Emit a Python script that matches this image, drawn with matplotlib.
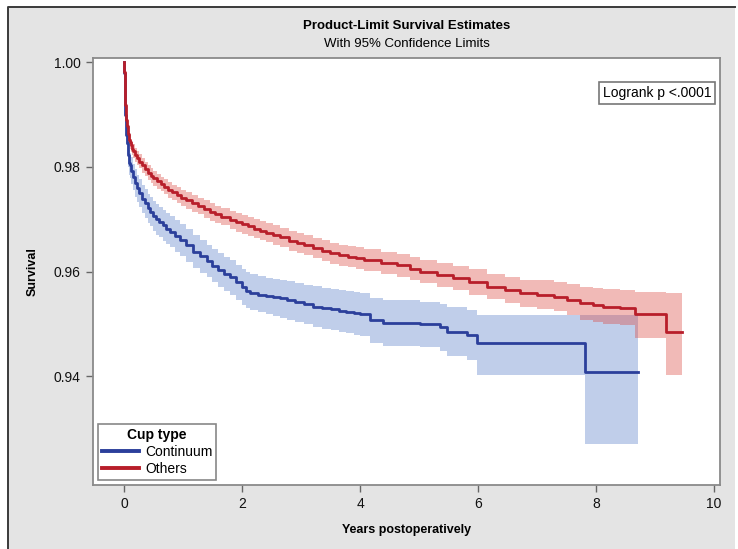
import numpy as np
import matplotlib
matplotlib.use("Agg")
import matplotlib.pyplot as plt
from matplotlib.patches import Rectangle
from matplotlib.lines import Line2D

plt.rcParams['font.family'] = ['Liberation Sans', 'DejaVu Sans']

# Kaplan-Meier estimates with 95% limits, group "Others"
oth_t = [0, 0.005, 0.01, 0.015, 0.02, 0.025, 0.03, 0.035, 0.04, 0.05, 0.06, 0.07, 0.08,
         0.09, 0.10, 0.12, 0.14, 0.16, 0.19, 0.22, 0.26, 0.30, 0.35, 0.40, 0.45, 0.50,
         0.56, 0.62, 0.68, 0.75, 0.82, 0.89, 0.97, 1.05, 1.15, 1.25, 1.35, 1.46, 1.55,
         1.65, 1.80, 1.90, 2.0, 2.1, 2.2, 2.3, 2.4, 2.52, 2.65, 2.8, 2.93, 3.05, 3.2,
         3.35, 3.49, 3.65, 3.8, 3.93, 4.06, 4.35, 4.62, 4.85, 5.02, 5.3, 5.58, 5.85,
         6.15, 6.45, 6.71, 7.0, 7.28, 7.5, 7.73, 7.95, 8.12, 8.4, 8.66, 9.19]
oth_s = [1.0, 0.9982, 0.9965, 0.9948, 0.9932, 0.9918, 0.9906, 0.9896, 0.9889, 0.9879,
         0.9870, 0.9863, 0.9857, 0.9852, 0.9848, 0.9841, 0.9835, 0.9830, 0.9823, 0.9817,
         0.9810, 0.9803, 0.9796, 0.9789, 0.9783, 0.9778, 0.9772, 0.9767, 0.9762, 0.9756,
         0.9751, 0.9746, 0.9741, 0.9736, 0.9730, 0.9725, 0.9720, 0.9714, 0.9709, 0.9705,
         0.9698, 0.9694, 0.9690, 0.9686, 0.9682, 0.9678, 0.9674, 0.9670, 0.9665, 0.9659,
         0.9654, 0.9650, 0.9645, 0.9640, 0.9635, 0.9631, 0.9628, 0.9625, 0.9622, 0.9617,
         0.9612, 0.9605, 0.9600, 0.9593, 0.9587, 0.9580, 0.9571, 0.9564, 0.9558, 0.9556,
         0.9552, 0.9546, 0.9539, 0.9536, 0.9533, 0.9531, 0.9519, 0.9484]
oth_lo = [1.0, 0.9978, 0.9960, 0.9942, 0.9925, 0.9910, 0.9897, 0.9886, 0.9878, 0.9867,
          0.9857, 0.9850, 0.9844, 0.9839, 0.9835, 0.9828, 0.9822, 0.9817, 0.9810, 0.9804,
          0.9797, 0.9789, 0.9782, 0.9775, 0.9769, 0.9764, 0.9758, 0.9753, 0.9748, 0.9741,
          0.9736, 0.9731, 0.9726, 0.9720, 0.9714, 0.9709, 0.9703, 0.9697, 0.9692, 0.9688,
          0.9681, 0.9676, 0.9672, 0.9668, 0.9664, 0.9660, 0.9656, 0.9651, 0.9646, 0.9640,
          0.9635, 0.9631, 0.9626, 0.9620, 0.9615, 0.9611, 0.9608, 0.9604, 0.9601, 0.9596,
          0.9590, 0.9583, 0.9578, 0.9570, 0.9564, 0.9556, 0.9547, 0.9539, 0.9532, 0.9528,
          0.9524, 0.9516, 0.9508, 0.9503, 0.9499, 0.9497, 0.9473, 0.9402]
oth_hi = [1.0, 0.9986, 0.9970, 0.9954, 0.9939, 0.9926, 0.9915, 0.9906, 0.9900, 0.9891,
          0.9883, 0.9876, 0.9870, 0.9865, 0.9861, 0.9854, 0.9848, 0.9843, 0.9836, 0.9830,
          0.9824, 0.9817, 0.9810, 0.9803, 0.9797, 0.9792, 0.9786, 0.9781, 0.9776, 0.9771,
          0.9766, 0.9761, 0.9756, 0.9752, 0.9746, 0.9741, 0.9737, 0.9731, 0.9726, 0.9722,
          0.9715, 0.9712, 0.9708, 0.9704, 0.9700, 0.9696, 0.9692, 0.9689, 0.9684, 0.9678,
          0.9673, 0.9669, 0.9664, 0.9660, 0.9655, 0.9651, 0.9648, 0.9646, 0.9643, 0.9638,
          0.9634, 0.9627, 0.9622, 0.9616, 0.9610, 0.9604, 0.9595, 0.9589, 0.9584, 0.9583,
          0.9580, 0.9576, 0.9570, 0.9569, 0.9567, 0.9565, 0.9561, 0.9558]
oth_end = 9.46

# group "Continuum"
con_t = [0, 0.005, 0.01, 0.015, 0.02, 0.025, 0.03, 0.035, 0.04, 0.05, 0.06, 0.07, 0.08,
         0.09, 0.10, 0.12, 0.15, 0.18, 0.215, 0.25, 0.30, 0.35, 0.40, 0.44, 0.50, 0.55,
         0.60, 0.66, 0.72, 0.78, 0.86, 0.95, 1.05, 1.17, 1.28, 1.40, 1.50, 1.60, 1.70,
         1.80, 1.90, 2.0, 2.07, 2.14, 2.27, 2.4, 2.52, 2.64, 2.77, 2.9, 3.05, 3.21, 3.35,
         3.5, 3.64, 3.77, 3.9, 4.0, 4.17, 4.39, 5.02, 5.36, 5.47, 5.81, 5.98, 7.81]
con_s = [1.0, 0.9980, 0.9960, 0.9940, 0.9920, 0.9900, 0.9884, 0.9871, 0.9861, 0.9845,
         0.9832, 0.9822, 0.9814, 0.9808, 0.9803, 0.9793, 0.9780, 0.9769, 0.9759, 0.9750,
         0.9739, 0.9730, 0.9721, 0.9714, 0.9706, 0.9700, 0.9694, 0.9688, 0.9682, 0.9676,
         0.9668, 0.9660, 0.9650, 0.9638, 0.9629, 0.9620, 0.9611, 0.9603, 0.9596, 0.9590,
         0.9580, 0.9570, 0.9563, 0.9558, 0.9555, 0.9553, 0.9551, 0.9549, 0.9545, 0.9542,
         0.9537, 0.9533, 0.9530, 0.9528, 0.9525, 0.9523, 0.9520, 0.9518, 0.9507, 0.9501,
         0.9500, 0.9494, 0.9485, 0.9479, 0.9463, 0.9407]
con_lo = [1.0, 0.9974, 0.9951, 0.9928, 0.9905, 0.9883, 0.9866, 0.9852, 0.9841, 0.9824,
          0.9810, 0.9799, 0.9790, 0.9784, 0.9779, 0.9768, 0.9755, 0.9743, 0.9733, 0.9723,
          0.9712, 0.9702, 0.9693, 0.9686, 0.9677, 0.9670, 0.9665, 0.9658, 0.9652, 0.9646,
          0.9638, 0.9630, 0.9619, 0.9606, 0.9597, 0.9589, 0.9580, 0.9571, 0.9563, 0.9556,
          0.9546, 0.9536, 0.9531, 0.9526, 0.9522, 0.9518, 0.9515, 0.9512, 0.9508, 0.9504,
          0.9499, 0.9494, 0.9491, 0.9488, 0.9485, 0.9482, 0.9479, 0.9477, 0.9464, 0.9458,
          0.9456, 0.9448, 0.9438, 0.9430, 0.9402, 0.9270]
con_hi = [1.0, 0.9986, 0.9969, 0.9952, 0.9935, 0.9917, 0.9902, 0.9890, 0.9881, 0.9866,
          0.9854, 0.9845, 0.9838, 0.9832, 0.9827, 0.9818, 0.9805, 0.9795, 0.9785, 0.9777,
          0.9766, 0.9758, 0.9749, 0.9742, 0.9735, 0.9729, 0.9723, 0.9717, 0.9712, 0.9706,
          0.9698, 0.9690, 0.9681, 0.9670, 0.9661, 0.9651, 0.9643, 0.9635, 0.9628, 0.9622,
          0.9613, 0.9604, 0.9600, 0.9596, 0.9592, 0.9588, 0.9586, 0.9584, 0.9581, 0.9578,
          0.9575, 0.9572, 0.9569, 0.9566, 0.9564, 0.9562, 0.9560, 0.9558, 0.9550, 0.9545,
          0.9542, 0.9538, 0.9532, 0.9527, 0.9517, 0.9517]
con_end = 8.71

x_ticks = [0, 2, 4, 6, 8, 10]
y_ticks = [0.94, 0.96, 0.98, 1.00]

blue = '#2b3f9b'
red = '#b81e2a'
blue_band = '#5a80c8'
red_band = '#dc4a44'


def extend(t, v, end):
    # carry the last value on to the last follow-up time
    return np.append(t, end), np.append(v, v[-1])


fig = plt.figure(figsize=(7.38, 5.49), dpi=100)
fig.patch.set_facecolor('white')

# gray panel behind the plot, dark rule along top and left
fig.add_artist(Rectangle((8 / 738, 0), 1 - 11 / 738, 1 - 7 / 549,
                         transform=fig.transFigure, facecolor='#e4e4e4',
                         edgecolor='none', zorder=-10))
fig.add_artist(Line2D([8 / 738, 8 / 738, 1 - 3 / 738], [0, 1 - 7 / 549, 1 - 7 / 549],
                      transform=fig.transFigure, color='#3a3a3a', linewidth=1.4,
                      zorder=-9))

ax = fig.add_axes([93 / 738, 64 / 549, 627 / 738, 427 / 549])
ax.set_facecolor('white')

for t, lo, hi, end, bc in [(con_t, con_lo, con_hi, con_end, blue_band),
                           (oth_t, oth_lo, oth_hi, oth_end, red_band)]:
    tt, lo2 = extend(t, lo, end)
    _, hi2 = extend(t, hi, end)
    ax.fill_between(tt, lo2, hi2, step='post', color=bc, alpha=0.38, linewidth=0)

for t, s, end, lc in [(con_t, con_s, con_end, blue), (oth_t, oth_s, oth_end, red)]:
    tt, ss = extend(t, s, end)
    ax.step(tt, ss, where='post', color=lc, linewidth=2.0)

ax.set_xlim(-0.525, 10.1)
ax.set_ylim(0.9192, 1.0008)
ax.set_xticks(x_ticks)
ax.set_yticks(y_ticks)
ax.set_yticklabels([f'{v:.2f}' for v in y_ticks])
ax.tick_params(direction='out', length=5, width=1, color='#666666',
               labelsize=10, labelcolor='#111111', pad=4)
for sp in ax.spines.values():
    sp.set_color('#8a8a8a')
    sp.set_linewidth(1.3)

ax.set_xlabel('Years postoperatively', fontsize=9, fontweight='bold')
ax.set_ylabel('Survival', fontsize=9, fontweight='bold')
ax.xaxis.set_label_coords(0.5, -0.092)
ax.yaxis.set_label_coords(-0.087, 0.5)

fig.text(0.5508, 0.952, 'Product-Limit Survival Estimates', ha='center', va='center',
         fontsize=9.5, fontweight='bold')
fig.text(0.5508, 0.919, 'With 95% Confidence Limits', ha='center', va='center',
         fontsize=9.5)

ax.text(0.986, 0.935, 'Logrank p <.0001', transform=ax.transAxes, ha='right', va='top',
        fontsize=10, bbox=dict(boxstyle='square,pad=0.3', facecolor='white',
                                edgecolor='#777777', linewidth=1.2))

handles = [Line2D([], [], color=blue, linewidth=2.8), Line2D([], [], color=red, linewidth=2.8)]
leg = ax.legend(handles, ['Continuum', 'Others'], title='Cup type', loc='lower left',
                bbox_to_anchor=(0.0075, 0.012), borderaxespad=0, fontsize=10,
                title_fontproperties={'weight': 'bold', 'size': 10},
                handlelength=2.7, handletextpad=0.4, borderpad=0.3, labelspacing=0.2,
                fancybox=False, framealpha=1)
leg.get_frame().set_edgecolor('#888888')
leg.get_frame().set_linewidth(1.2)

fig.savefig('out.png', dpi=100)
